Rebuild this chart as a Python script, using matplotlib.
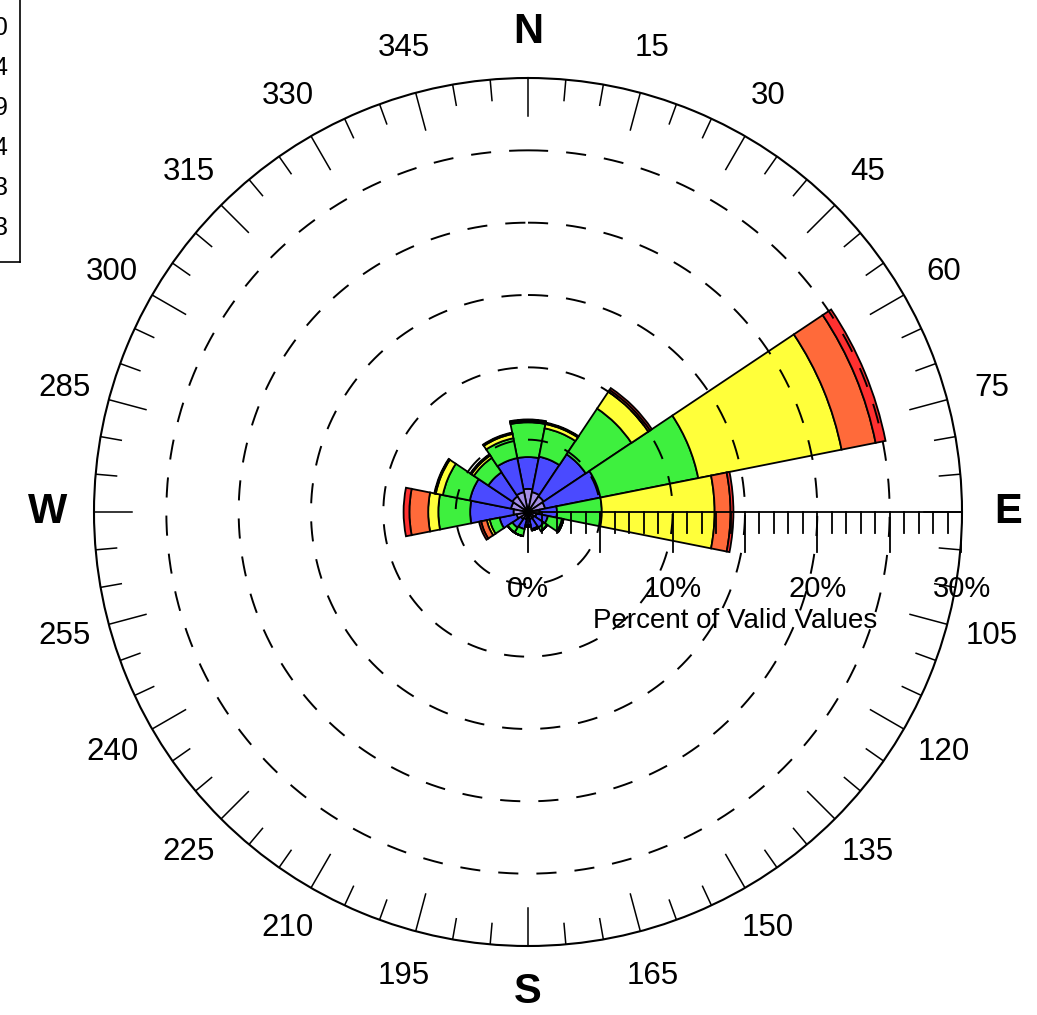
import numpy as np
import matplotlib
matplotlib.use("Agg")
import matplotlib.pyplot as plt

plt.rcParams['font.family'] = ['Liberation Sans', 'DejaVu Sans']
plt.rcParams['lines.scale_dashes'] = False

# ---------------- data ----------------
directions = [0, 22.5, 45, 67.5, 90, 112.5, 135, 157.5,
              180, 202.5, 225, 247.5, 270, 292.5, 315, 337.5]
class_1 = [1.6, 1.4, 1.3, 1.2, 0.8, 0.6, 0.5, 0.5, 0.4, 0.5, 0.6, 0.8, 1.0, 1.2, 1.3, 1.4]
class_2 = [2.2, 2.5, 3.5, 3.9, 1.2, 0.8, 0.8, 0.7, 0.5, 0.7, 0.7, 1.2, 3.0, 2.9, 2.0, 2.4]
class_3 = [2.4, 2.0, 3.8, 6.9, 3.1, 1.0, 0.3, 0.1, 0.1, 0.5, 0.4, 0.7, 2.2, 1.9, 1.2, 1.4]
class_4 = [0.1, 0.3, 1.4, 10.1, 7.8, 0.1, 0.0, 0.0, 0.0, 0.0, 0.0, 0.2, 0.7, 0.5, 0.2, 0.3]
class_5 = [0.05, 0.05, 0.15, 2.4, 1.1, 0.0, 0.0, 0.0, 0.0, 0.0, 0.0, 0.4, 1.3, 0.05, 0.05, 0.05]
class_6 = [0.05, 0.05, 0.15, 0.7, 0.2, 0.0, 0.0, 0.0, 0.0, 0.0, 0.0, 0.15, 0.4, 0.05, 0.05, 0.05]
classes = [class_1, class_2, class_3, class_4, class_5, class_6]
class_colors = ['#a48ee6', '#4a4aff', '#3ef03e', '#ffff3a', '#ff6a3a', '#ff3030']
legend_labels = ['1.0 - 2.0', '2.0 - 3.4', '3.4 - 5.9', '5.9 - 8.4', '8.4 - 11.3', '>= 11.3']

dash_rings = [5, 10, 15, 20, 25]
r_max = 30
pct_labels = [0, 10, 20, 30]
angle_labels = list(range(0, 360, 15))
cardinal = {0: 'N', 90: 'E', 180: 'S', 270: 'W'}

# ---------------- figure ----------------
W, H = 1037, 1015
fig = plt.figure(figsize=(W / 100, H / 100), dpi=100)
cx, cy, R = 528, 512, 434
rect = [(cx - R) / W, (H - cy - R) / H, 2 * R / W, 2 * R / H]

ax = fig.add_axes(rect, projection='polar')
ax.set_theta_zero_location('N')
ax.set_theta_direction(-1)
ax.set_ylim(0, r_max)
ax.grid(False)
ax.set_xticks([])
ax.set_yticks([])
ax.spines['polar'].set_linewidth(1.5)

theta = np.deg2rad(directions)
width = np.deg2rad(22.5)
bottom = np.zeros(len(directions))
for vals, col in zip(classes, class_colors):
    v = np.array(vals)
    ax.bar(theta, v, width=width, bottom=bottom, color=col,
           edgecolor='black', linewidth=1.3, align='center', zorder=2)
    bottom = bottom + v

tt = np.linspace(0, 2 * np.pi, 1441)
for r in dash_rings:
    ax.plot(tt, np.full_like(tt, r), color='black', lw=1.4,
            dashes=[14.5, 13], zorder=4)

for a in range(0, 360, 5):
    L = 2.66 if a % 15 == 0 else 1.45
    th = np.deg2rad(a)
    ax.plot([th, th], [r_max - L, r_max], color='black', lw=1.1, zorder=4)

# overlay cartesian axes for radial scale and labels
ax2 = fig.add_axes(rect)
ax2.set_xlim(-r_max, r_max)
ax2.set_ylim(-r_max, r_max)
ax2.axis('off')
ax2.patch.set_alpha(0)

ax2.plot([0, r_max], [0, 0], color='black', lw=1.3, zorder=5)
for i in range(0, r_max + 1):
    L = 2.77 if i % 5 == 0 else 1.45
    ax2.plot([i, i], [0, -L], color='black', lw=1.3, zorder=5)

for p in pct_labels:
    ax2.text(p, -5.3, f'{p}%', ha='center', va='center', fontsize=21)
ax2.text(14.3, -7.5, 'Percent of Valid Values', ha='center', va='center', fontsize=20)

Rl = 33.2
for a in angle_labels:
    x = Rl * np.sin(np.deg2rad(a))
    y = Rl * np.cos(np.deg2rad(a))
    if a in cardinal:
        ax2.text(x, y, cardinal[a], ha='center', va='center',
                 fontsize=30, fontweight='bold', clip_on=False)
    else:
        ax2.text(x, y, str(a), ha='center', va='center',
                 fontsize=22.5, clip_on=False)

# legend box (mostly outside the canvas, as in the reference)
for k, lab in enumerate(legend_labels):
    fig.text(8 / W, 1 - (28 + 40 * k) / H, lab, ha='right', va='center', fontsize=18)
fig.add_artist(plt.Line2D([20 / W, 20 / W], [1, 1 - 262 / H], color='black', lw=1.2,
                          transform=fig.transFigure))
fig.add_artist(plt.Line2D([0, 20 / W], [1 - 262 / H, 1 - 262 / H], color='black', lw=1.2,
                          transform=fig.transFigure))

fig.savefig('out.png', dpi=100)
